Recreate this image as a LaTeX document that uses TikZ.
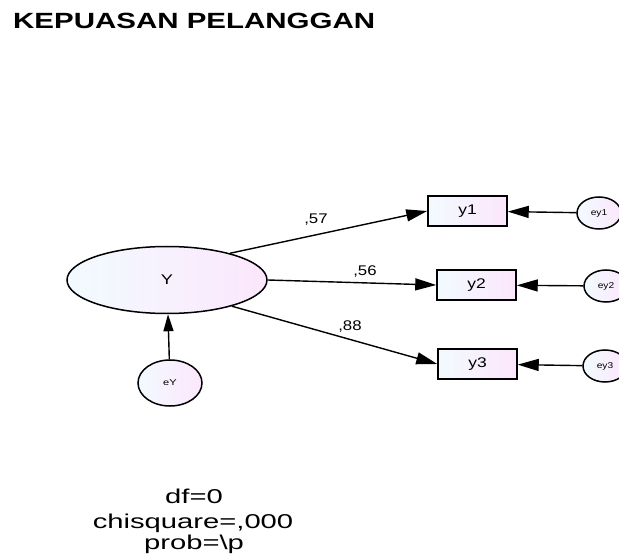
\documentclass[tikz,border=0pt]{standalone}
\usepackage{fontspec}
\setmainfont{Liberation Sans}
\usetikzlibrary{shapes.geometric,arrows.meta}
\definecolor{fillL}{RGB}{242,251,255}
\definecolor{fillR}{RGB}{252,230,252}
% horizontally widened text
\newcommand{\wtext}[2]{\scalebox{#1}[1]{#2}}
\tikzset{
  latent/.style={ellipse,draw=black,line width=1.5pt,left color=fillL,right color=fillR,inner sep=0pt},
  obs/.style={rectangle,draw=black,line width=1.5pt,left color=fillL,right color=fillR,minimum width=79pt,minimum height=30pt,inner sep=0pt,font=\fontsize{14pt}{14pt}\selectfont},
  resid/.style={latent,minimum width=44pt,minimum height=32pt,font=\fontsize{8.5pt}{8.5pt}\selectfont},
  path/.style={line width=1.4pt,-{Triangle[length=21pt,width=12pt]}},
  vpath/.style={line width=1.4pt,-{Triangle[length=17pt,width=10pt]}},
  coef/.style={font=\fontsize{14pt}{14pt}\selectfont,inner sep=0pt},
  stat/.style={anchor=base,inner sep=0pt,font=\fontsize{20pt}{20pt}\selectfont},
}
\begin{document}
\begin{tikzpicture}[x=1pt,y=-1pt]
\useasboundingbox (0,0) rectangle (619,556);
\clip (0,0) rectangle (619,556);
% title
\node[anchor=base west,inner sep=0pt,font=\fontsize{22pt}{22pt}\selectfont\bfseries] (title) at (13,29) {\wtext{1.34}{KEPUASAN PELANGGAN}};
% latent variable and its residual
\node[latent,minimum width=200pt,minimum height=67pt,font=\fontsize{14pt}{14pt}\selectfont] (Y) at (167,280) {\wtext{1.3}{Y}};
\node[latent,minimum width=64pt,minimum height=46pt,font=\fontsize{8.5pt}{8.5pt}\selectfont] (eY) at (170,383) {\wtext{1.3}{eY}};
% indicators
\node[obs] (y1) at (467.5,211) {\wtext{1.25}{y1}};
\node[obs] (y2) at (476.5,285) {\wtext{1.25}{y2}};
\node[obs] (y3) at (477.5,364) {\wtext{1.25}{y3}};
% indicator residuals
\node[resid] (ey1) at (599,213) {\wtext{1.2}{ey1}};
\node[resid] (ey2) at (606,286) {\wtext{1.2}{ey2}};
\node[resid] (ey3) at (605,366) {\wtext{1.2}{ey3}};
% paths
\draw[vpath] (eY) -- (Y);
\draw[path] (Y.23) -- (y1.west);
\draw[path] (Y.east) -- (y2.west);
\draw[path] (Y.-22) -- (y3.west);
\draw[path] (ey1) -- (y1);
\draw[path] (ey2) -- (y2);
\draw[path] (ey3) -- (y3);
% loadings
\node[coef] (l1) at (316,220) {\wtext{1.2}{,57}};
\node[coef] (l2) at (365,272) {\wtext{1.2}{,56}};
\node[coef] (l3) at (350,327) {\wtext{1.2}{,88}};
% fit statistics
\node[stat] (df) at (194,503) {\wtext{1.46}{df=0}};
\node[stat] (chi) at (193,528) {\wtext{1.46}{chisquare=,000}};
\node[stat] (prob) at (194,549) {\wtext{1.46}{prob=\textbackslash p}};
\end{tikzpicture}
\end{document}
